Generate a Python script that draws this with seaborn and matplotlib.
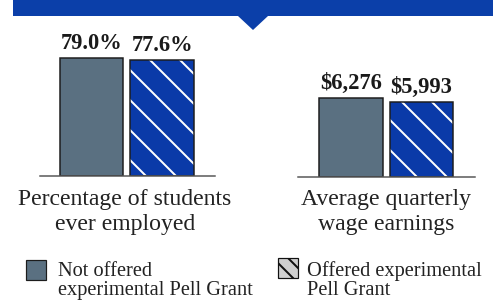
import matplotlib
matplotlib.use('Agg')
import matplotlib.pyplot as plt
from matplotlib.patches import Rectangle, Polygon
import seaborn as sns
import pandas as pd

# data
groups = ['Not offered experimental Pell Grant', 'Offered experimental Pell Grant']
employed_pct = [79.0, 77.6]
quarterly_wage = [6276, 5993]
employed_labels = ['79.0%', '77.6%']
wage_labels = ['$6,276', '$5,993']
panel_titles = ['Percentage of students\never employed', 'Average quarterly\nwage earnings']
legend_labels = ['Not offered\nexperimental Pell Grant', 'Offered experimental\nPell Grant']

GRAY = '#5a7081'
BLUE = '#0a3aa8'
BANNER = '#0b3fa9'
EDGE = '#1c1c1c'

W, H, DPI = 498, 301, 90
PT = 72 / DPI  # points per pixel

sns.set_style('white')
plt.rcParams['font.family'] = ['Liberation Serif', 'DejaVu Serif']
plt.rcParams['hatch.linewidth'] = 2 * PT


def px_box(x0, y0, x1, y1):
    return [x0 / W, 1 - y1 / H, (x1 - x0) / W, (y1 - y0) / H]


def draw_panel(ax, values, labels, ymax, xlim):
    df = pd.DataFrame({'group': groups, 'value': values})
    sns.barplot(data=df, x='group', y='value', hue='group', palette=[GRAY, BLUE],
                width=0.9, edgecolor=EDGE, linewidth=1.5 * PT, saturation=1,
                legend=False, ax=ax)
    bars = [p for c in ax.containers for p in c]
    hb = bars[1]
    hb.set_hatch('\\')
    hb.set_edgecolor('white')
    hb.set_linewidth(0)
    ax.add_patch(Rectangle(hb.get_xy(), hb.get_width(), hb.get_height(),
                           fill=False, edgecolor=EDGE, lw=1.5 * PT))
    for p, lab in zip(bars, labels):
        ax.annotate(lab, (p.get_x() + p.get_width() / 2, p.get_height()),
                    xytext=(0, 9 * PT), textcoords='offset points',
                    ha='center', va='baseline', fontsize=18, fontweight='bold',
                    color='#1a1a1a')
    ax.set_ylim(0, ymax)
    ax.set_xlim(*xlim)
    ax.set_xticks([])
    ax.set_yticks([])
    ax.set_xlabel('')
    ax.set_ylabel('')
    for s in ['top', 'left', 'right']:
        ax.spines[s].set_visible(False)
    ax.spines['bottom'].set_color('#555555')
    ax.spines['bottom'].set_linewidth(1.5 * PT)
    ax.patch.set_alpha(0)


fig = plt.figure(figsize=(W / DPI, H / DPI), dpi=DPI)

ax1 = fig.add_axes(px_box(40, 40, 215, 176))
draw_panel(ax1, employed_pct, employed_labels, 91.0, (-0.73, 1.75))
ax2 = fig.add_axes(px_box(298, 40, 475, 177))
draw_panel(ax2, quarterly_wage, wage_labels, 10880, (-0.75, 1.76))

# panel captions (multi-line text: 'baseline' pins the last line)
for cx, title in zip([125, 386], panel_titles):
    fig.text(cx / W, 1 - 230 / H, title, ha='center', va='baseline',
             fontsize=19, color='#222222', linespacing=1.22)

# banner with pointer
banner = [(13, -2), (493, -2), (493, 16), (268, 16), (253, 30), (238, 16), (13, 16)]
fig.add_artist(Polygon([(x / W, 1 - y / H) for x, y in banner], closed=True,
                       transform=fig.transFigure, facecolor=BANNER, edgecolor='none'))

# legend
fig.add_artist(Rectangle((26 / W, 1 - 280 / H), 20 / W, 20 / H, transform=fig.transFigure,
                         facecolor=GRAY, edgecolor=EDGE, lw=1.2 * PT))
fig.add_artist(Rectangle((278 / W, 1 - 278 / H), 20 / W, 20 / H, transform=fig.transFigure,
                         facecolor='#cfcfcf', edgecolor='#111111', hatch='\\\\', lw=1.2 * PT))
fig.text(58 / W, 1 - 295 / H, legend_labels[0], va='baseline', fontsize=16.3,
         color='#222222', linespacing=1.0)
fig.text(307 / W, 1 - 295 / H, legend_labels[1], va='baseline', fontsize=16.3,
         color='#222222', linespacing=1.0)

fig.savefig('out.png', dpi=DPI)
